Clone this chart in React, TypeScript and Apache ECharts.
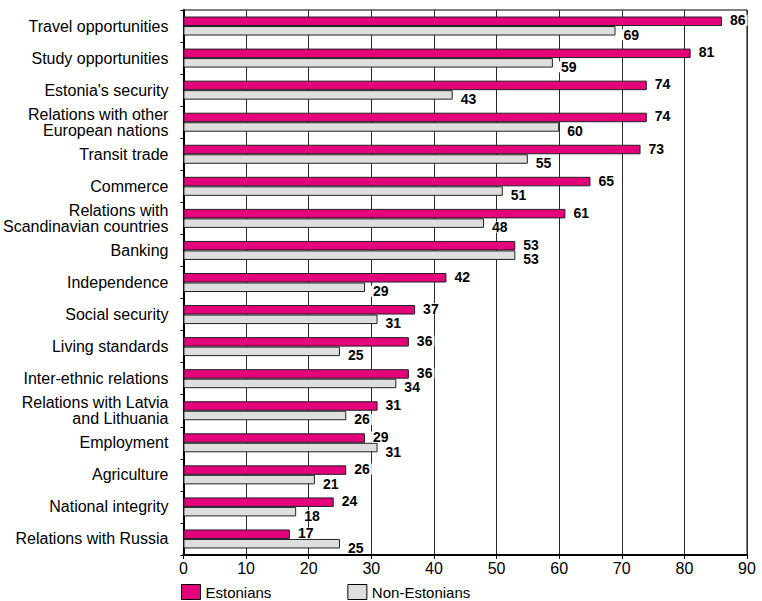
import React, { useEffect, useRef } from "react";
import * as echarts from "echarts";

const categories = [
  "Travel opportunities",
  "Study opportunities",
  "Estonia's security",
  "Relations with other\nEuropean nations",
  "Transit trade",
  "Commerce",
  "Relations with\nScandinavian countries",
  "Banking",
  "Independence",
  "Social security",
  "Living standards",
  "Inter-ethnic relations",
  "Relations with Latvia\nand Lithuania",
  "Employment",
  "Agriculture",
  "National integrity",
  "Relations with Russia",
];

const estonians = [86, 81, 74, 74, 73, 65, 61, 53, 42, 37, 36, 36, 31, 29, 26, 24, 17];
const nonEstonians = [69, 59, 43, 60, 55, 51, 48, 53, 29, 31, 25, 34, 26, 31, 21, 18, 25];

const xTicks = [0, 10, 20, 30, 40, 50, 60, 70, 80, 90];

const FONT = "'Liberation Sans', Arial, Helvetica, sans-serif";
const MAGENTA = "#E3007A";
const GREY = "#DEDEDE";

export default function App() {
  const ref = useRef<HTMLDivElement>(null);

  useEffect(() => {
    if (!ref.current) return;
    const chart = echarts.init(ref.current, undefined, { renderer: "svg" });

    const valueLabel = (offsetY: number) => ({
      show: true,
      position: "right" as const,
      distance: 6,
      offset: [0, offsetY],
      color: "#000",
      fontFamily: FONT,
      fontSize: 14,
      fontWeight: "bold" as const,
      lineHeight: 11,
      backgroundColor: "#fff",
      padding: [0, 2, 0, 2],
    });

    chart.setOption({
      animation: false,
      backgroundColor: "#fff",
      textStyle: { fontFamily: FONT },
      grid: {
        left: 181,
        right: 15,
        top: 10,
        bottom: 46,
        show: true,
        borderColor: "#000",
        borderWidth: 1,
        backgroundColor: "transparent",
      },
      legend: {
        left: 181,
        top: 584,
        padding: 0,
        itemWidth: 19,
        itemHeight: 15,
        itemGap: 76,
        icon: "rect",
        textStyle: { fontFamily: FONT, fontSize: 15, color: "#000" },
        data: [
          { name: "Estonians", itemStyle: { color: MAGENTA, borderColor: "#000", borderWidth: 1 } },
          { name: "Non-Estonians", itemStyle: { color: GREY, borderColor: "#000", borderWidth: 1 } },
        ],
      },
      xAxis: {
        type: "value",
        min: 0,
        max: 90,
        interval: 10,
        axisLine: { show: true, lineStyle: { color: "#000", width: 2 } },
        axisTick: { show: true, length: 4, lineStyle: { color: "#000", width: 1 } },
        axisLabel: {
          color: "#000",
          fontFamily: FONT,
          fontSize: 16,
          margin: 5,
          formatter: (v: number) => (xTicks.includes(v) ? String(v) : ""),
        },
        splitLine: { show: true, lineStyle: { color: "#2a2a2a", width: 1 } },
      },
      yAxis: {
        type: "category",
        data: categories,
        inverse: true,
        axisLine: { show: true, lineStyle: { color: "#000", width: 2 } },
        axisTick: { show: true, length: 3, lineStyle: { color: "#000", width: 1 } },
        axisLabel: {
          color: "#000",
          fontFamily: FONT,
          fontSize: 16,
          lineHeight: 16,
          margin: 15,
          align: "right",
        },
        splitLine: { show: false },
      },
      series: [
        {
          name: "Estonians",
          type: "bar",
          data: estonians,
          barWidth: 9.5,
          barGap: "0%",
          itemStyle: { color: MAGENTA, borderColor: "#222", borderWidth: 1 },
          label: valueLabel(-1),
        },
        {
          name: "Non-Estonians",
          type: "bar",
          data: nonEstonians,
          barWidth: 9.5,
          barGap: "0%",
          itemStyle: { color: GREY, borderColor: "#222", borderWidth: 1 },
          label: valueLabel(4),
        },
      ],
    });

    return () => chart.dispose();
  }, []);

  return (
    <div
      ref={ref}
      style={{ position: "fixed", left: 0, top: 0, width: 762, height: 601, background: "#fff" }}
    />
  );
}
